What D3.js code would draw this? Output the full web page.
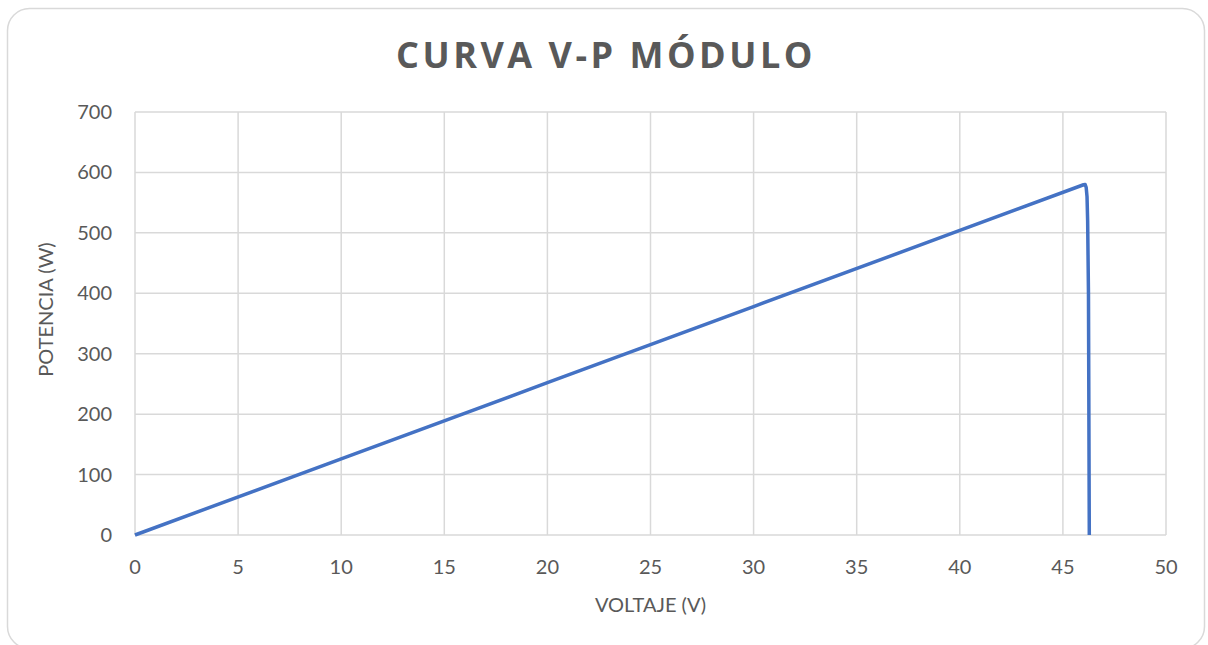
<!DOCTYPE html>
<html>
<head>
<meta charset="utf-8">
<script src="https://cdn.jsdelivr.net/npm/d3@7"></script>
<style>
  html, body { margin: 0; padding: 0; background: #fff; }
  text { font-family: Lato, "Liberation Sans", sans-serif; fill: #595959; }
  text.title { font-family: "Open Sans", sans-serif; font-weight: bold; }
</style>
</head>
<body>
<svg id="chart" width="1208" height="645"></svg>
<script>
// V-P curve of the module
const voltage = [0, 10, 20, 30, 40, 46.0, 46.08, 46.13, 46.17, 46.2, 46.24, 46.28];
const power   = [0, 126, 252, 378, 504, 579.6, 580, 575, 560, 520, 400, 0];
const xTicks = [0, 5, 10, 15, 20, 25, 30, 35, 40, 45, 50];
const yTicks = [0, 100, 200, 300, 400, 500, 600, 700];

const title = "CURVA V-P MÓDULO";
const xTitle = "VOLTAJE (V)";
const yTitle = "POTENCIA (W)";

const lineColor = '#4472c4';
const gridColor = '#d9d9d9';

const svg = d3.select('#chart');

svg.append('rect')
  .attr('x', 7.5).attr('y', 8.5)
  .attr('width', 1197).attr('height', 640)
  .attr('rx', 22).attr('ry', 22)
  .attr('fill', '#fff')
  .attr('stroke', gridColor)
  .attr('stroke-width', 1.5);

const margin = {left: 135, right: 42, top: 112, bottom: 110},
  width = 1208 - margin.left - margin.right,
  height = 645 - margin.top - margin.bottom;

const x = d3.scaleLinear().domain([0, 50]).range([margin.left, margin.left + width]);
const y = d3.scaleLinear().domain([0, 700]).range([margin.top + height, margin.top]);

// grid
svg.append('g')
  .selectAll('line')
  .data(xTicks)
  .join('line')
  .attr('x1', d => x(d)).attr('x2', d => x(d))
  .attr('y1', y(0)).attr('y2', y(700))
  .attr('stroke', gridColor).attr('stroke-width', 1.5);

svg.append('g')
  .selectAll('line')
  .data(yTicks)
  .join('line')
  .attr('x1', x(0)).attr('x2', x(50))
  .attr('y1', d => y(d)).attr('y2', d => y(d))
  .attr('stroke', gridColor).attr('stroke-width', 1.5);

// tick labels
svg.append('g')
  .selectAll('text')
  .data(xTicks)
  .join('text')
  .attr('x', d => x(d))
  .attr('y', y(0) + 39)
  .attr('text-anchor', 'middle')
  .attr('font-size', 20)
  .text(d => d);

svg.append('g')
  .selectAll('text')
  .data(yTicks)
  .join('text')
  .attr('x', x(0) - 23)
  .attr('y', d => y(d) + 7)
  .attr('text-anchor', 'end')
  .attr('font-size', 20)
  .text(d => d);

// axis titles
svg.append('text')
  .attr('x', (x(0) + x(50)) / 2)
  .attr('y', 612)
  .attr('text-anchor', 'middle')
  .attr('font-size', 20)
  .text(xTitle);

svg.append('text')
  .attr('transform', `translate(53, ${(y(0) + y(700)) / 2 - 14}) rotate(-90)`)
  .attr('text-anchor', 'middle')
  .attr('font-size', 20)
  .text(yTitle);

svg.append('text')
  .attr('class', 'title')
  .attr('x', 606)
  .attr('y', 68)
  .attr('text-anchor', 'middle')
  .attr('font-size', 36)
  .attr('letter-spacing', 3.5)
  .text(title);

// curve
const pts = voltage.map((v, i) => ({v: v, p: power[i]}));
const line = d3.line()
  .x(d => x(d.v))
  .y(d => y(d.p));

svg.append('path')
  .datum(pts)
  .attr('d', line)
  .attr('fill', 'none')
  .attr('stroke', lineColor)
  .attr('stroke-width', 3.5)
  .attr('stroke-linejoin', 'round');
</script>
</body>
</html>
